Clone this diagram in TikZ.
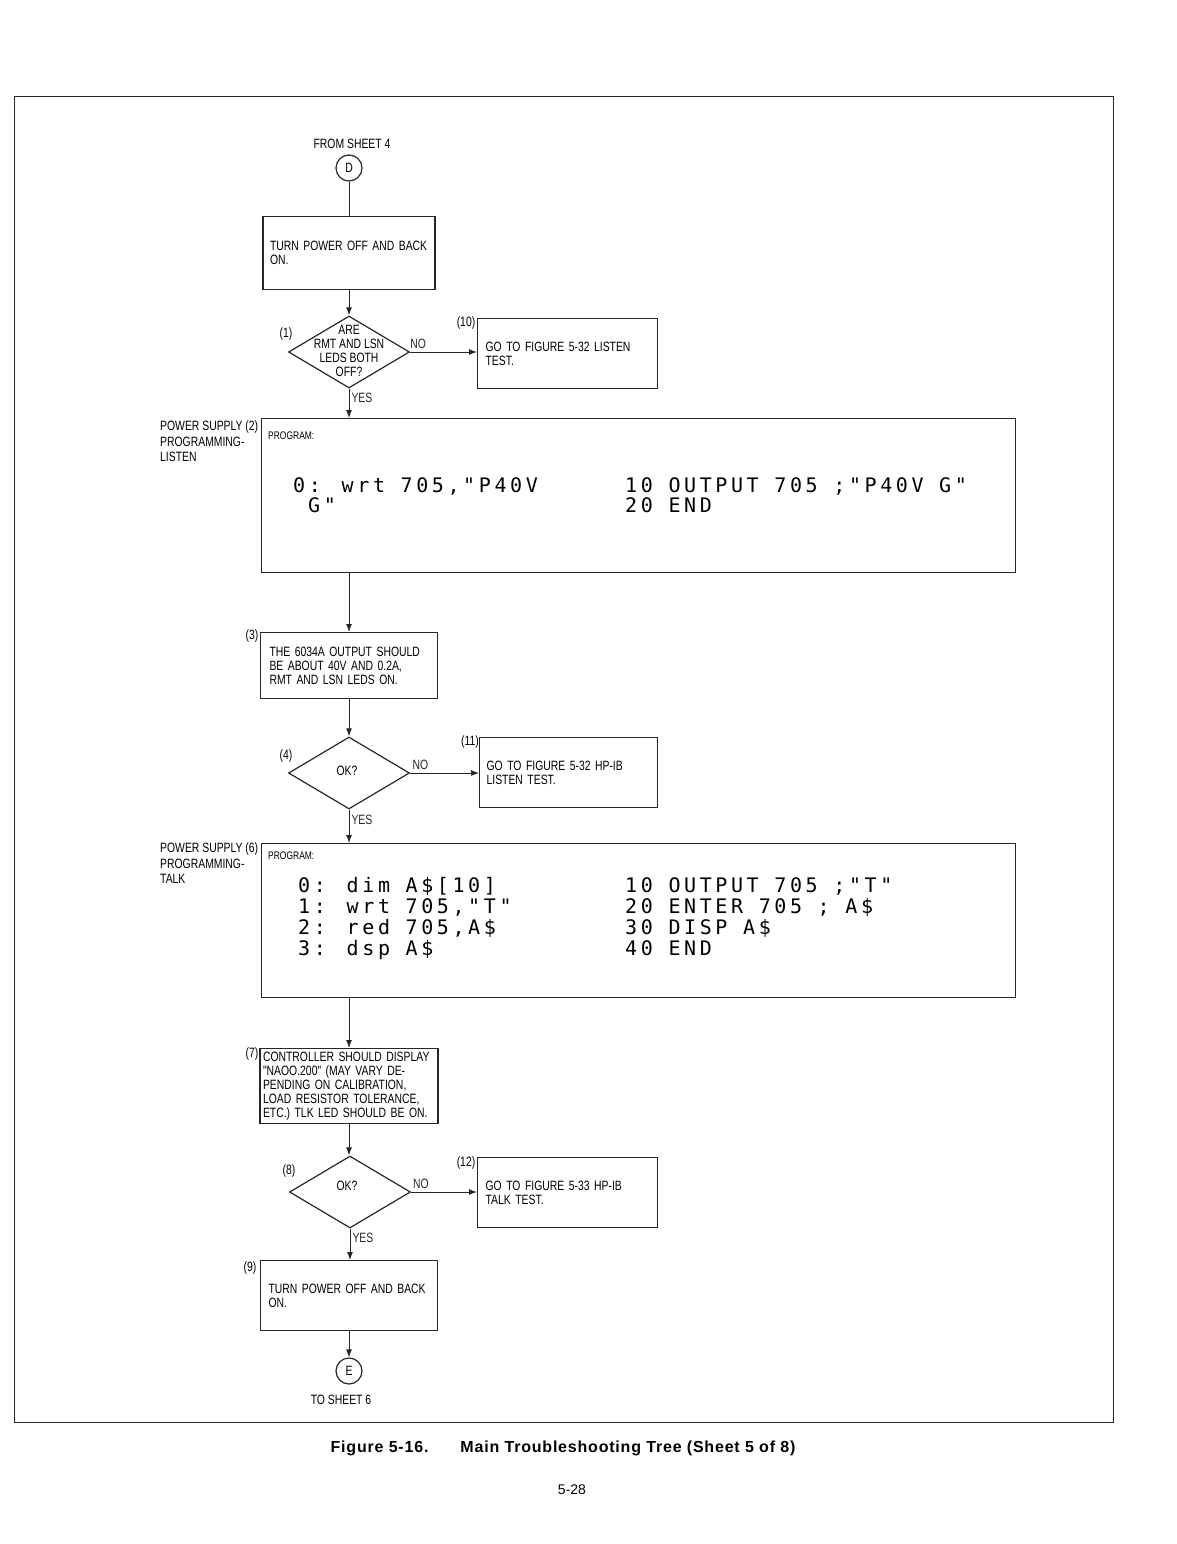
\documentclass[tikz,border=0pt]{standalone}
\usepackage{fontspec}
\setmainfont{Liberation Sans}
\newfontfamily\condfont[FakeStretch=0.77]{Liberation Sans}
\newfontfamily\codefont[LetterSpace=18]{DejaVu Sans Mono}
\usepackage{tikz}
\usetikzlibrary{positioning,arrows.meta,shapes.geometric}

\begin{document}
\begin{tikzpicture}[x=1pt,y=-1pt,>={Latex[length=8pt,width=6pt]},
  txt/.style={font=\condfont\fontsize{13.5}{14}\selectfont},
  actbox/.style={draw=black!85,line width=1.2pt,txt,align=left,anchor=north,inner xsep=7pt},
  qbox/.style={draw=black!85,diamond,line width=1.2pt,inner sep=0pt,minimum width=121pt,minimum height=72pt},
  progbox/.style={draw=black!85,line width=1.2pt,anchor=north west,minimum width=754pt,minimum height=154pt},
  code/.style={font=\codefont\fontsize{20}{21}\selectfont,anchor=base west,inner sep=0pt},
  conn/.style={line width=1pt,black!85},
  tag/.style={txt,inner sep=0pt},
  offpage/.style={draw=black!85,circle,line width=1.2pt,minimum size=26pt,inner sep=0pt,txt}]
\useasboundingbox (0,0) rectangle (1176,1544);
% ---- sheet frame ----
\draw[line width=1pt,black!85] (14,97) rectangle (1113,1422);
% ---- entry connector ----
\node[tag] (fromtxt) at (352,144) {FROM SHEET 4};
\node[offpage] (conD) at (349,168) {D};
% ---- first test: RMT / LSN leds ----
\node[actbox,minimum width=172pt,minimum height=73pt,text width=158pt] (box1) at (349,216) {TURN POWER OFF AND BACK\\ON.};
\node[qbox] (q1) at (349,352) {};
\node[tag,align=center] (q1txt) at (349,351) {ARE\\RMT AND LSN\\LEDS BOTH\\OFF?};
\node[actbox,anchor=north west,minimum width=180pt,minimum height=70pt,text width=164pt] (box10) at (477,318) {GO TO FIGURE 5-32 LISTEN\\TEST.};
% ---- listen program ----
\node[progbox] (prog1) at (261,418) {};
\node[tag,font=\condfont\fontsize{11}{12}\selectfont,anchor=west] (prog1hd) at (268,436) {PROGRAM:};
\node[code] (p1a) at (293,492) {0: wrt 705,"P40V};
\node[code] (p1b) at (308,512) {G"};
\node[code] (p1c) at (625,492) {10 OUTPUT 705 ;"P40V G"};
\node[code] (p1d) at (625,512) {20 END};
\node[tag,align=left,anchor=north west,font=\condfont\fontsize{13.5}{15.5}\selectfont] (side1) at (160,421) {POWER SUPPLY (2)\\PROGRAMMING-\\LISTEN};
% ---- output check ----
\node[actbox,minimum width=177pt,minimum height=66pt,text width=159pt,inner xsep=9pt] (box3) at (349,632) {THE 6034A OUTPUT SHOULD\\BE ABOUT 40V AND 0.2A,\\RMT AND LSN LEDS ON.};
\node[qbox] (q4) at (349,773) {};
\node[tag] (q4txt) at (347,771) {OK?};
\node[actbox,anchor=north west,minimum width=178pt,minimum height=70pt,text width=164pt] (box11) at (479,737) {GO TO FIGURE 5-32 HP-IB\\LISTEN TEST.};
% ---- talk program ----
\node[progbox] (prog2) at (261,843) {};
\node[tag,font=\condfont\fontsize{11}{12}\selectfont,anchor=west] (prog2hd) at (268,856) {PROGRAM:};
\foreach \i/\ln in {0/{0: dim A\$[10]},1/{1: wrt 705,"T"},2/{2: red 705,A\$},3/{3: dsp A\$}} {
  \node[code] (p2l\i) at (298,892+21*\i) {\ln};}
\foreach \i/\ln in {0/{10 OUTPUT 705 ;"T"},1/{20 ENTER 705 ; A\$},2/{30 DISP A\$},3/{40 END}} {
  \node[code] (p2r\i) at (625,892+21*\i) {\ln};}
\node[tag,align=left,anchor=north west,font=\condfont\fontsize{13.5}{15.5}\selectfont] (side2) at (160,843) {POWER SUPPLY (6)\\PROGRAMMING-\\TALK};
% ---- display check ----
\node[actbox,minimum width=178pt,minimum height=74pt,text width=172pt,inner xsep=3pt] (box7) at (349,1048) {CONTROLLER SHOULD DISPLAY\\"NAOO.200" (MAY VARY DE-\\PENDING ON CALIBRATION,\\LOAD RESISTOR TOLERANCE,\\ETC.) TLK LED SHOULD BE ON.};
\node[qbox] (q8) at (350,1192) {};
\node[tag] (q8txt) at (347,1186) {OK?};
\node[actbox,anchor=north west,minimum width=180pt,minimum height=70pt,text width=164pt] (box12) at (477,1157) {GO TO FIGURE 5-33 HP-IB\\TALK TEST.};
\node[actbox,minimum width=177pt,minimum height=70pt,text width=161pt] (box9) at (349,1260) {TURN POWER OFF AND BACK\\ON.};
\node[offpage] (conE) at (349,1371) {E};
\node[tag] (totxt) at (341,1400) {TO SHEET 6};
% ---- step numbers ----
\foreach \t/\xx/\yy in {1/286/334,10/466/323,3/252/636,4/286/756,11/470/742,7/252/1054,8/289/1171,12/466/1163,9/250/1268} {
  \node[tag] (n\t) at (\xx,\yy) {(\t)};}
% ---- connectors ----
\draw[conn] (conD) -- (box1);
\draw[conn,->] (box1) -- (q1);
\draw[conn,->] (q1.east) -- (box10.west |- q1.east) node[pos=0.12,above,tag,yshift=3pt] (no1) {NO};
\draw[conn,->] (q1.south) -- (q1.south |- prog1.north) node[pos=0.3,right,tag,xshift=2pt] (yes1) {YES};
\draw[conn,->] (box3.north |- prog1.south) -- (box3.north);
\draw[conn,->] (box3) -- (q4);
\draw[conn,->] (q4.east) -- (box11.west |- q4.east) node[pos=0.15,above,tag,yshift=3pt] (no4) {NO};
\draw[conn,->] (q4.south) -- (q4.south |- prog2.north) node[pos=0.3,right,tag,xshift=2pt] (yes4) {YES};
\draw[conn,->] (box7.north |- prog2.south) -- (box7.north);
\draw[conn,->] (box7.south) -- (box7.south |- q8.north);
\draw[conn,->] (q8.east) -- (box12.west |- q8.east) node[pos=0.15,above,tag,yshift=3pt] (no8) {NO};
\draw[conn,->] (q8.south) -- (q8.south |- box9.north) node[pos=0.3,right,tag,xshift=2pt] (yes8) {YES};
\draw[conn,->] (box9) -- (conE);
% ---- caption ----
\node[font=\bfseries\fontsize{16}{18}\selectfont\addfontfeature{LetterSpace=5}] (cap) at (563,1448) {Figure 5-16.\hspace{32pt}Main Troubleshooting Tree (Sheet 5 of 8)};
\node[font=\fontsize{14}{16}\selectfont] (pageno) at (572,1490) {5-28};
\end{tikzpicture}
\end{document}
